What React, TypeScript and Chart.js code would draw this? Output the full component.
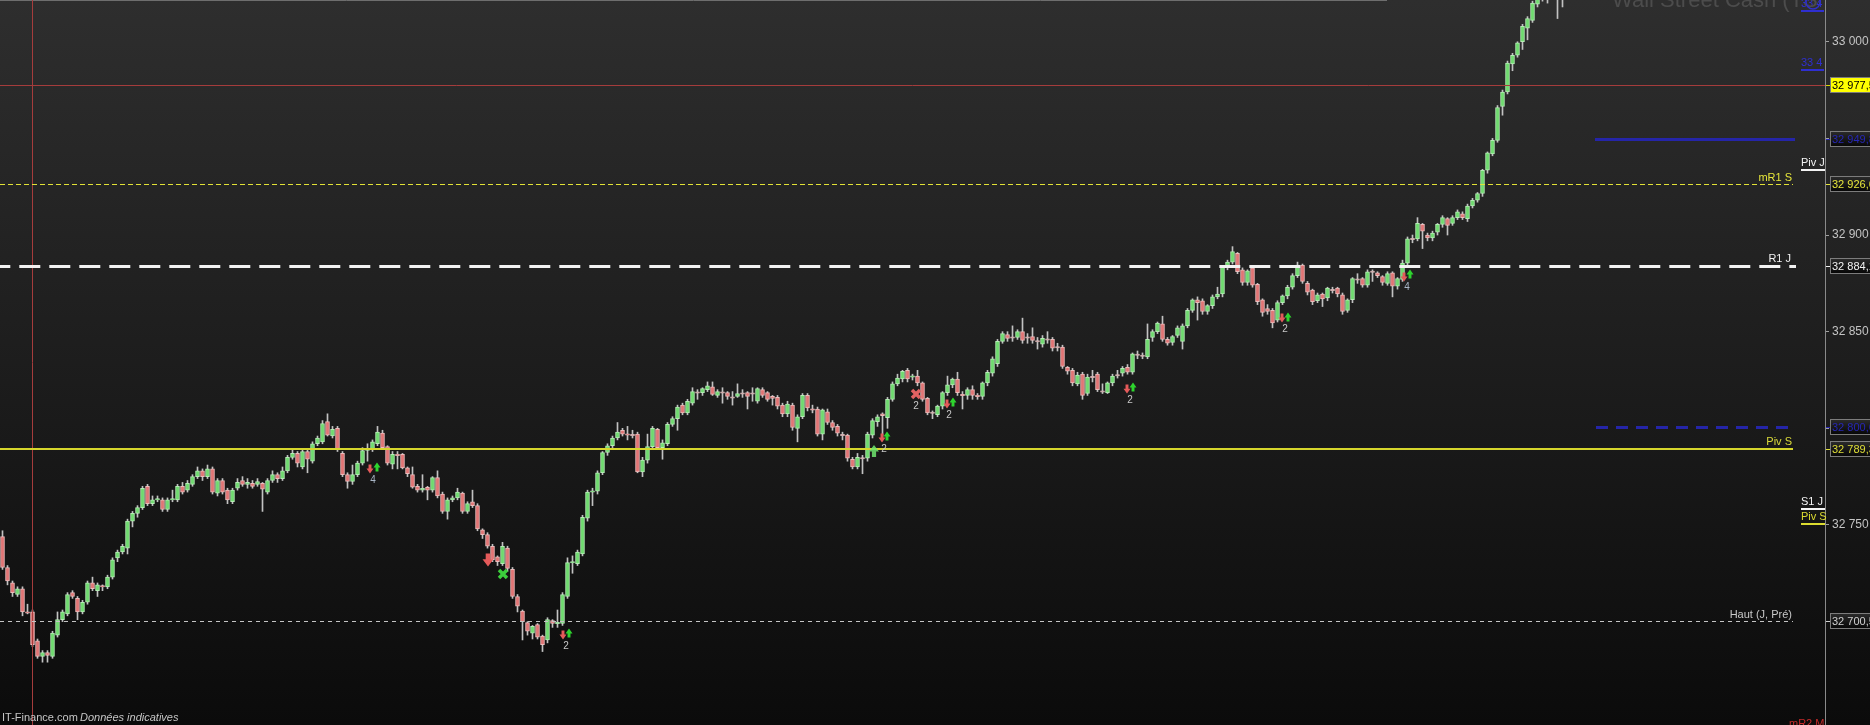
import React, { useEffect, useRef } from "react";
import { Chart, registerables } from "chart.js";

Chart.register(...registerables);

const SLOT_COUNT = 365;
const Y_MIN = 32646.5;
const Y_MAX = 33021.6;
const yTickValues = [32700, 32750, 32800, 32850, 32900, 32950, 33000];

const opens = [
  32744, 32728, 32720, 32714, 32717, 32705, 32705, 32690, 32682, 32684,
  32682, 32693, 32701, 32704, 32715, 32712, 32705, 32710, 32720, 32716,
  32718.5, 32718, 32723, 32733, 32736, 32738, 32752, 32756, 32759, 32770,
  32761, 32763, 32763, 32758, 32763, 32763, 32770, 32768, 32771, 32775,
  32778, 32775, 32779, 32766.5, 32773, 32768, 32762, 32769, 32773, 32771,
  32771.5, 32771, 32771.5, 32767, 32773, 32776, 32774, 32778, 32785, 32787,
  32780, 32788, 32783, 32792, 32793, 32803.5, 32796, 32800, 32787, 32776,
  32772.5, 32776, 32782, 32788.5, 32789, 32792, 32797.5, 32790.5, 32781.5, 32786.5,
  32786.5, 32779.5, 32776, 32770, 32768, 32769.5, 32768, 32774.5, 32766, 32757,
  32763, 32764, 32766.5, 32757, 32762, 32760, 32747.5, 32745, 32739, 32733.5,
  32730, 32738, 32727, 32713, 32705.5, 32699.5, 32694, 32698.5, 32692.5, 32690.5,
  32700.5, 32699, 32699, 32713, 32730.5, 32730, 32735, 32753.5, 32767, 32767.5,
  32777, 32787.5, 32791, 32795, 32799, 32797, 32796.5, 32797, 32777.5, 32783.5,
  32790.5, 32799.5, 32790, 32792, 32802, 32805, 32812, 32808, 32813, 32818.5,
  32818.5, 32820, 32821.5, 32817, 32818.5, 32818.5, 32816, 32816.5, 32818, 32818.5,
  32818, 32814, 32820, 32818.5, 32816.5, 32816, 32812, 32807.5, 32812, 32800,
  32806, 32817, 32810, 32810, 32797, 32808.5, 32803, 32801, 32796.5, 32796.5,
  32784, 32780, 32784.5, 32784.5, 32796.5, 32803.5, 32807.5, 32805.5, 32815, 32823,
  32825.5, 32830, 32826.5, 32827, 32823.5, 32815.5, 32808, 32807, 32811.5, 32818.5,
  32822.5, 32825.5, 32817.5, 32817, 32820, 32817, 32816.5, 32823.5, 32828.5, 32833.5,
  32845, 32848.5, 32847, 32847, 32850, 32847, 32847.5, 32845, 32843.5, 32846,
  32846, 32842, 32842, 32831.5, 32830, 32823, 32828, 32818, 32826.5, 32828,
  32819, 32818.5, 32823.5, 32827.5, 32828.5, 32831.5, 32829, 32838, 32837.5, 32837,
  32847, 32850, 32854, 32846, 32844.5, 32848, 32845, 32853, 32861, 32866.5,
  32866, 32860.5, 32863.5, 32868, 32869.5, 32883.5, 32886, 32890.5, 32882, 32875.5,
  32883, 32874.5, 32866.5, 32862, 32861, 32856, 32865, 32868.5, 32873, 32879,
  32884.5, 32875, 32871.5, 32866, 32869.5, 32867.5, 32871.5, 32872.5, 32869, 32861,
  32866.5, 32877, 32877.5, 32874, 32881, 32880.5, 32878.5, 32875, 32880.5, 32873.5,
  32877, 32885.5, 32898, 32898, 32905.5, 32900, 32898.5, 32901.5, 32905.5, 32908.5,
  32906, 32909, 32911, 32908.5, 32915, 32918, 32921.5, 32933.5, 32942, 32949,
  32966.5, 32974, 32988.5, 32993, 33000, 33007, 33011, 33019.5, 33022, 33028,
  33032, 33030, 33027,
];

const closes = [
  32728, 32721, 32715, 32717, 32705, 32704.5, 32688, 32682, 32684, 32682.5,
  32694, 32701, 32705, 32714, 32713, 32705, 32710, 32720, 32717, 32719,
  32718, 32723, 32732, 32736, 32739, 32752, 32756, 32759, 32769, 32761,
  32763, 32763.5, 32758, 32763, 32763.5, 32770, 32767, 32771.5, 32775, 32778,
  32775, 32779, 32767, 32773, 32767, 32763, 32768, 32772, 32771, 32772,
  32770, 32772.5, 32768.5, 32773, 32776, 32774, 32778, 32785, 32787, 32782,
  32788, 32784, 32792, 32795, 32802.5, 32796.5, 32799.5, 32789, 32776, 32772.5,
  32776, 32782, 32788.5, 32789.5, 32793, 32798, 32790, 32782, 32786.5, 32786,
  32779.5, 32776.5, 32769.5, 32768, 32769, 32768, 32774.5, 32765, 32757, 32763,
  32764, 32767, 32757, 32761, 32760, 32748, 32745, 32739, 32732, 32731,
  32739, 32727.5, 32713, 32708, 32700, 32695, 32697.5, 32692, 32688, 32701,
  32699, 32699.5, 32714, 32730.5, 32731, 32736, 32754, 32767, 32767.5, 32777,
  32787.5, 32791, 32795, 32798, 32797, 32796.5, 32796.5, 32777.5, 32783.5, 32790.5,
  32800, 32790, 32792.5, 32802, 32805, 32811, 32808, 32814, 32819, 32818.5,
  32820.5, 32822, 32817.5, 32819, 32818.5, 32816.5, 32816, 32818, 32818, 32816.5,
  32818, 32820.5, 32817, 32815, 32815.5, 32811.5, 32807.5, 32812.5, 32800.5, 32806,
  32817, 32810.5, 32809.5, 32797, 32809.5, 32803, 32800.5, 32797.5, 32796.5, 32784.5,
  32780, 32785, 32784.5, 32797, 32804, 32806, 32806.5, 32815, 32823, 32826,
  32829.5, 32825.5, 32827, 32823.5, 32815, 32808, 32808, 32811.5, 32818.5, 32822.5,
  32825.5, 32818.5, 32817, 32820, 32817, 32816.5, 32823.5, 32829, 32836, 32845,
  32849, 32846.5, 32847, 32850, 32845.5, 32847, 32845.5, 32845, 32846.5, 32846,
  32841.5, 32842, 32832, 32829.5, 32823.5, 32827.5, 32817, 32826.5, 32826.5, 32820,
  32819, 32823.5, 32827, 32827.5, 32831, 32829, 32838.5, 32838, 32837.5, 32846,
  32850, 32854.5, 32846, 32844, 32847.5, 32852, 32853, 32861, 32866.5, 32865,
  32860.5, 32863.5, 32868, 32869.5, 32883.5, 32886, 32891.5, 32881, 32875.5, 32881.5,
  32874, 32865.5, 32860, 32860.5, 32854.5, 32865, 32868.5, 32873, 32879, 32884.5,
  32876, 32870.5, 32865.5, 32869, 32867, 32872.5, 32871.5, 32869.5, 32860.5, 32866.5,
  32877.5, 32877, 32874, 32881, 32881, 32879, 32875.5, 32880, 32873.5, 32877.5,
  32885.5, 32898, 32898, 32906, 32902, 32898.5, 32901, 32905.5, 32909, 32905,
  32909, 32912, 32909, 32915, 32918, 32921.5, 32933.5, 32942.5, 32949, 32966,
  32974, 32989, 32993, 32999.5, 33008, 33012, 33020, 33024, 33028, 33032,
  33035, 33027, 33030,
];

const highs = [
  32747, 32729, 32721, 32718, 32718, 32709, 32706, 32691, 32685, 32685,
  32695, 32705, 32706, 32715, 32716, 32713, 32711, 32721, 32723, 32720,
  32719, 32724, 32733, 32737, 32740, 32753, 32757, 32760, 32770, 32771,
  32765, 32765, 32764, 32764, 32768, 32771, 32772, 32773, 32776, 32780,
  32779, 32781, 32780, 32774, 32774, 32769, 32769, 32774, 32775, 32774,
  32773, 32774, 32772, 32774, 32778, 32777, 32780, 32786, 32789, 32788,
  32789, 32789, 32793, 32796, 32804, 32807.5, 32801, 32801, 32788, 32777,
  32781, 32783, 32790, 32792, 32794, 32801, 32799, 32791, 32788, 32788,
  32787, 32780, 32780, 32771, 32776, 32770, 32775, 32778, 32767, 32764,
  32765, 32769, 32767, 32762, 32768, 32761, 32748, 32746, 32740, 32734,
  32741, 32739, 32728, 32714, 32706, 32700, 32698, 32699, 32693, 32702,
  32701, 32706, 32715, 32733, 32734, 32737, 32755, 32768, 32769, 32778,
  32788, 32792, 32796, 32803, 32800, 32801, 32799, 32798, 32785, 32797,
  32801, 32800, 32794, 32803, 32806, 32812, 32813, 32815, 32821, 32820,
  32821, 32824, 32824, 32820, 32821, 32819, 32819, 32823, 32820, 32819,
  32821, 32821, 32821, 32819, 32817, 32817, 32813, 32814, 32813, 32807,
  32818, 32818, 32812, 32811, 32810, 32810, 32804, 32802, 32798, 32797,
  32785, 32787, 32786, 32798, 32805, 32807, 32808, 32816, 32824, 32828,
  32830, 32831, 32828, 32830, 32824, 32816, 32809, 32812, 32819, 32827,
  32826, 32829, 32819, 32821, 32822, 32818, 32824, 32830, 32837, 32846,
  32850, 32850, 32853, 32851, 32857, 32849, 32852, 32847, 32848, 32850,
  32847, 32844, 32843, 32832, 32831, 32829, 32829, 32828, 32830, 32829,
  32823, 32824, 32828, 32830, 32832, 32833, 32839, 32840, 32839, 32854,
  32851, 32855, 32858, 32847, 32848, 32853, 32854, 32862, 32867, 32868,
  32867, 32864, 32869, 32873, 32884, 32887, 32894, 32891, 32883, 32882,
  32884, 32875, 32867, 32864, 32862, 32866, 32869, 32874, 32880, 32886,
  32885, 32876, 32872, 32870, 32870, 32873, 32873, 32873, 32870, 32867,
  32878, 32880, 32878, 32882, 32882, 32881, 32879, 32881, 32881, 32878,
  32887, 32899, 32900, 32909, 32906, 32901, 32902, 32906, 32910, 32909,
  32910, 32913, 32912, 32916, 32919, 32922, 32934, 32943, 32950, 32967,
  32975, 32990, 32994, 33000, 33009, 33013, 33021, 33025, 33030, 33034,
  33037, 33033, 33033,
];

const lows = [
  32727, 32719, 32713, 32713, 32703, 32704, 32687, 32681, 32679, 32679,
  32681, 32692, 32700, 32703, 32712, 32701, 32704, 32709, 32716, 32713,
  32716, 32717, 32722, 32731, 32735, 32735, 32749, 32754, 32758, 32760,
  32760, 32762, 32757, 32757, 32762, 32762, 32766, 32767, 32770, 32774,
  32773, 32774, 32766, 32765, 32766, 32761, 32761, 32768, 32770, 32769,
  32769, 32770, 32757, 32766, 32772, 32772, 32773, 32777, 32784, 32780,
  32779, 32777, 32782, 32791, 32792, 32796, 32795, 32788, 32775, 32769,
  32771, 32775, 32781, 32783, 32788, 32791, 32789, 32781, 32779, 32779,
  32779, 32775, 32769, 32767, 32767, 32763, 32767, 32764, 32756, 32753,
  32762, 32763, 32756, 32756, 32759, 32747, 32743, 32738, 32731, 32729,
  32729, 32726, 32712, 32705, 32690.5, 32693, 32691, 32691, 32684.5, 32689,
  32697, 32697, 32698, 32712, 32725, 32729, 32734, 32752, 32760, 32766,
  32776, 32786, 32790, 32794, 32796, 32794, 32795, 32777, 32775, 32782,
  32789, 32789, 32784, 32791, 32801, 32799, 32807, 32807, 32812, 32815,
  32817, 32819, 32817, 32816, 32813, 32815, 32812, 32816, 32816, 32810,
  32814, 32813, 32816, 32814, 32812, 32810, 32806, 32806, 32799, 32793,
  32805, 32809, 32808, 32796, 32794, 32802, 32799, 32796, 32794, 32783,
  32779, 32779, 32776.5, 32783, 32795, 32801, 32796, 32800, 32814, 32822,
  32824, 32824, 32825, 32822, 32814, 32807, 32805, 32806, 32810, 32817,
  32821, 32817, 32810, 32815, 32815, 32815, 32815, 32822, 32827, 32832,
  32844, 32845, 32845, 32846, 32844, 32844, 32844, 32841, 32842, 32844,
  32840, 32840, 32831, 32828, 32822, 32822, 32815, 32817, 32824, 32819,
  32818, 32818, 32822, 32826, 32827, 32828, 32828, 32836, 32836, 32836,
  32845, 32849, 32845, 32843, 32843, 32847, 32841, 32852, 32860, 32856,
  32859, 32859, 32862, 32867, 32868, 32882, 32885, 32880, 32874, 32874,
  32873, 32864, 32858, 32859, 32852, 32855, 32864, 32867, 32872, 32878,
  32875, 32869, 32864, 32865, 32863, 32866, 32870, 32868, 32859, 32860,
  32865, 32875, 32873, 32873, 32876, 32878, 32874, 32874, 32868, 32872,
  32876, 32884, 32896, 32897, 32893, 32897, 32897, 32900, 32904, 32900,
  32905, 32908, 32908, 32907, 32914, 32917, 32920, 32932, 32941, 32948,
  32962, 32973, 32985, 32992, 32996, 33001, 33010, 33018, 33021, 33020,
  33025, 33012, 33018,
];

// price levels
const redLevel = 32977.5;
const blueLevel = 32949.8;
const mR1SLevel = 32926.6;
const r1JLevel = 32884.1;
const blueDashLevel = 32800.6;
const pivSLevel = 32789.3;
const hautLevel = 32700.5;
const crosshairIndex = 6;

// signal markers: [candle index, price]
const downArrows: [number, number][] = [
  [73.5, 32779.0], [112.1, 32693.1], [175.9, 32795.0], [188.9, 32812.6],
  [224.9, 32820.3], [255.9, 32857.1], [280.3, 32878.3],
];
const upArrows: [number, number][] = [
  [74.9, 32780.0], [113.3, 32694.1], [176.9, 32796.0], [190.1, 32813.6],
  [226.1, 32821.4], [257.1, 32857.6], [281.5, 32879.8],
];
const bigDownArrows: [number, number][] = [[97.1, 32731.9]];
const bigUpArrows: [number, number][] = [[174.3, 32788.3]];
const countLabels: [number, number, string][] = [
  [74.1, 32773.3, "4"], [112.7, 32687.4, "2"], [176.3, 32789.3, "2"],
  [182.7, 32811.5, "2"], [189.3, 32806.9, "2"], [225.5, 32814.6, "2"],
  [256.5, 32851.4, "2"], [280.9, 32873.1, "4"],
];
const greenCrosses: [number, number][] = [[100.1, 32724.6]];
const redCrosses: [number, number][] = [[182.7, 32817.7]];

const FONT = '"Liberation Sans", Arial, sans-serif';

function fmtInt(v: number) {
  const s = String(Math.round(v));
  return s.slice(0, -3) + " " + s.slice(-3);
}
function fmtDec(v: number) {
  const s = v.toFixed(1);
  const [a, b] = s.split(".");
  return a.slice(0, -3) + " " + a.slice(-3) + "," + b;
}

function drawArrow(ctx: CanvasRenderingContext2D, cx: number, cy: number, w: number, h: number, up: boolean, color: string) {
  const hw = w / 2;
  const headH = h * 0.55;
  const sw = w * 0.42;
  const dir = up ? 1 : -1;
  const tip = cy - (dir * h) / 2;
  const base = cy + (dir * h) / 2;
  const headBase = tip + dir * headH;
  ctx.beginPath();
  ctx.moveTo(cx, tip);
  ctx.lineTo(cx + hw, headBase);
  ctx.lineTo(cx + sw / 2, headBase);
  ctx.lineTo(cx + sw / 2, base);
  ctx.lineTo(cx - sw / 2, base);
  ctx.lineTo(cx - sw / 2, headBase);
  ctx.lineTo(cx - hw, headBase);
  ctx.closePath();
  ctx.fillStyle = color;
  ctx.fill();
}

function drawCross(ctx: CanvasRenderingContext2D, cx: number, cy: number, r: number, color: string) {
  ctx.save();
  ctx.strokeStyle = color;
  ctx.lineWidth = 3.5;
  ctx.beginPath();
  ctx.moveTo(cx - r, cy - r);
  ctx.lineTo(cx + r, cy + r);
  ctx.moveTo(cx + r, cy - r);
  ctx.lineTo(cx - r, cy + r);
  ctx.stroke();
  ctx.restore();
}

const bgPlugin = {
  id: "bgGradient",
  beforeDraw(chart: any) {
    const { ctx, width, height } = chart;
    const g = ctx.createLinearGradient(0, 0, 0, height);
    g.addColorStop(0, "#2e2e2e");
    g.addColorStop(0.5, "#1d1d1d");
    g.addColorStop(1, "#0b0b0b");
    ctx.save();
    ctx.fillStyle = g;
    ctx.fillRect(0, 0, width, height);
    ctx.strokeStyle = "#6e6e6e";
    ctx.lineWidth = 1;
    ctx.beginPath();
    ctx.moveTo(0, 0.5);
    ctx.lineTo(1387, 0.5);
    ctx.stroke();
    ctx.restore();
  },
};

const levelPlugin = {
  id: "levels",
  afterDatasetsDraw(chart: any) {
    const { ctx, chartArea } = chart;
    const y = chart.scales.y;
    const x = chart.scales.x;
    const yp = (v: number) => Math.round(y.getPixelForValue(v));
    const hline = (v: number, x0: number, x1: number, color: string, w: number, dash: number[], offset = 0) => {
      const py = yp(v) + (w % 2 === 1 ? 0.5 : 0);
      ctx.save();
      ctx.strokeStyle = color;
      ctx.lineWidth = w;
      ctx.setLineDash(dash);
      ctx.lineDashOffset = offset;
      ctx.beginPath();
      ctx.moveTo(x0, py);
      ctx.lineTo(x1, py);
      ctx.stroke();
      ctx.restore();
    };
    const cx = Math.floor(x.getPixelForValue(crosshairIndex)) + 0.5;
    ctx.save();
    ctx.strokeStyle = "#a53c3c";
    ctx.lineWidth = 1;
    ctx.beginPath();
    ctx.moveTo(cx, 0);
    ctx.lineTo(cx, chart.height);
    ctx.stroke();
    ctx.restore();

    hline(redLevel, 0, chartArea.right, "#a53c3c", 1, []);
    hline(blueLevel, 1595, 1795, "#2525a8", 3, []);
    hline(mR1SLevel, 0, 1793, "#e2e236", 1, [5, 3]);
    hline(r1JLevel, 0, 1796, "#f2f2f2", 3, [21, 9], 10.7);
    hline(blueDashLevel, 1596, 1796, "#2525a8", 3, [12, 8]);
    hline(pivSLevel, 0, 1793, "#d6d62c", 2, []);
    hline(hautLevel, 0, 1793, "#c4c4c4", 1, [4, 4]);

    const px = (i: number) => x.getPixelForValue(i);
    const py = (v: number) => y.getPixelForValue(v);
    downArrows.forEach(([i, v]) => drawArrow(ctx, px(i), py(v), 7, 9, false, "#e45a5a"));
    upArrows.forEach(([i, v]) => drawArrow(ctx, px(i), py(v), 7, 9, true, "#2ed42e"));
    bigDownArrows.forEach(([i, v]) => drawArrow(ctx, px(i), py(v), 11, 13, false, "#e45a5a"));
    bigUpArrows.forEach(([i, v]) => drawArrow(ctx, px(i), py(v), 10, 12, true, "rgba(110,230,110,0.85)"));
    greenCrosses.forEach(([i, v]) => drawCross(ctx, px(i), py(v), 4, "#3ccf3c"));
    redCrosses.forEach(([i, v]) => drawCross(ctx, px(i), py(v), 4, "#e26262"));
    ctx.save();
    ctx.font = "10px " + FONT;
    ctx.textAlign = "center";
    ctx.textBaseline = "middle";
    countLabels.forEach(([i, v, t]) => {
      ctx.fillStyle = t === "4" ? "#a9b6c6" : "#c8c8c8";
      ctx.fillText(t, px(i), py(v));
    });
    ctx.restore();
  },
  afterDraw(chart: any) {
    const { ctx, chartArea } = chart;
    const y = chart.scales.y;
    const yp = (v: number) => Math.round(y.getPixelForValue(v));
    ctx.save();
    ctx.font = "11px " + FONT;
    ctx.textBaseline = "alphabetic";
    ctx.textAlign = "right";
    ctx.fillStyle = "#e6e63a";
    ctx.fillText("mR1 S", 1792, yp(mR1SLevel) - 3);
    ctx.fillStyle = "#f0f0f0";
    ctx.fillText("R1 J", 1791, yp(r1JLevel) - 4);
    ctx.fillStyle = "#dada3a";
    ctx.fillText("Piv S", 1792, yp(pivSLevel) - 4);
    ctx.fillStyle = "#c8c8c8";
    ctx.fillText("Haut (J, Pré)", 1792, yp(hautLevel) - 3);

    ctx.textAlign = "left";
    const tag = (text: string, tx: number, ty: number, color: string, ul: number) => {
      ctx.fillStyle = color;
      ctx.fillText(text, tx, ty);
      ctx.fillRect(tx, ty + 3, ul, 2);
    };
    tag("33 4", 1801, 7, "#2f2fd0", 23);
    tag("33 4", 1801, 66, "#2f2fd0", 23);
    tag("Piv J", 1801, 166, "#f4f4f4", 24);
    tag("S1 J", 1801, 505, "#f4f4f4", 24);
    tag("Piv S", 1801, 520, "#dcdc30", 24);
    ctx.fillStyle = "#c42a2a";
    ctx.fillText("mR2 M", 1789, 727);

    ctx.font = "22px " + FONT;
    ctx.fillStyle = "#4c4c4c";
    ctx.fillText("Wall Street Cash (TS", 1612, 7);
    ctx.strokeStyle = "#3030c8";
    ctx.lineWidth = 1.5;
    ctx.beginPath();
    ctx.arc(1813, 2, 7, 0, Math.PI * 2);
    ctx.stroke();

    ctx.font = "11px " + FONT;
    ctx.fillStyle = "#c6c6c6";
    ctx.fillText("IT-Finance.com", 2, 721);
    ctx.font = "italic 11px " + FONT;
    ctx.fillText("Données indicatives", 80, 721);

    const boxes: { v: number; fg: string; bg?: string }[] = [
      { v: redLevel, fg: "#000000", bg: "#ffff00" },
      { v: blueLevel, fg: "#2626b4" },
      { v: mR1SLevel, fg: "#e6e63a" },
      { v: r1JLevel, fg: "#f2f2f2" },
      { v: blueDashLevel, fg: "#2626b4" },
      { v: pivSLevel, fg: "#dede36" },
      { v: hautLevel, fg: "#d0d0d0" },
    ];
    ctx.font = "11px " + FONT;
    ctx.textBaseline = "middle";
    boxes.forEach((b) => {
      const cy = yp(b.v);
      const top = cy - 8;
      if (b.bg) {
        ctx.fillStyle = b.bg;
      } else {
        const g = ctx.createLinearGradient(0, top, 0, top + 16);
        g.addColorStop(0, "#2c2c2c");
        g.addColorStop(1, "#050505");
        ctx.fillStyle = g;
      }
      ctx.fillRect(1830, top, 45, 16);
      ctx.strokeStyle = "#7c7c7c";
      ctx.lineWidth = 1;
      ctx.strokeRect(1830.5, top + 0.5, 45, 15);
      ctx.fillStyle = b.fg;
      ctx.fillText(fmtDec(b.v), 1832, cy + 1);
      ctx.fillStyle = b.fg === "#000000" ? "#d8d800" : b.fg;
      ctx.fillRect(chartArea.right + 1, cy, 4, 1);
    });
    ctx.restore();
  },
};

export default function App() {
  const canvasRef = useRef<HTMLCanvasElement | null>(null);

  useEffect(() => {
    if (!canvasRef.current) return;
    const labels = Array.from({ length: SLOT_COUNT }, (_, i) => String(i));
    const wickData = lows.map((l, i) => [l, highs[i]]);
    const bodyData = opens.map((o, i) => {
      const c = closes[i];
      const lo = Math.min(o, c);
      const hi = Math.max(o, c);
      if (hi - lo < 0.6) {
        const m = (hi + lo) / 2;
        return [m - 0.35, m + 0.35];
      }
      return [lo, hi];
    });
    const bodyFill = opens.map((o, i) =>
      closes[i] > o ? "#6edb6e" : closes[i] < o ? "#e27474" : "#cfa6a6"
    );
    const bodyBorder = opens.map((o, i) =>
      closes[i] > o ? "#b4ecb4" : closes[i] < o ? "#ecbcbc" : "#d8b8b8"
    );

    const chart = new Chart(canvasRef.current, {
      type: "bar",
      data: {
        labels,
        datasets: [
          {
            label: "wicks",
            data: wickData as any,
            backgroundColor: "#c2c2c2",
            barThickness: 1,
            grouped: false,
            order: 2,
          } as any,
          {
            label: "bodies",
            data: bodyData as any,
            backgroundColor: bodyFill,
            borderColor: bodyBorder,
            borderWidth: 1,
            borderSkipped: false,
            barThickness: 4,
            grouped: false,
            order: 1,
          } as any,
        ],
      },
      options: {
        animation: false,
        responsive: false,
        maintainAspectRatio: false,
        layout: { padding: 0 },
        plugins: {
          legend: { display: false },
          tooltip: { enabled: false },
          title: { display: false },
        },
        scales: {
          x: {
            type: "category",
            display: false,
            offset: true,
            grid: { display: false },
          },
          y: {
            type: "linear",
            position: "right",
            min: Y_MIN,
            max: Y_MAX,
            afterFit: (s: any) => {
              s.width = 45;
              s.paddingTop = 0;
              s.paddingBottom = 0;
            },
            afterBuildTicks: (s: any) => {
              s.ticks = yTickValues.map((v) => ({ value: v }));
            },
            ticks: {
              color: "#c4c4c4",
              font: { family: FONT, size: 12 },
              padding: 3,
              callback: (v: any) => fmtInt(Number(v)),
            },
            grid: {
              drawOnChartArea: false,
              drawTicks: true,
              tickLength: 4,
              color: "#a0a0a0",
            },
            border: { color: "#8a8a8a", width: 1 },
          } as any,
        },
      },
      plugins: [bgPlugin, levelPlugin],
    });
    return () => chart.destroy();
  }, []);

  return (
    <div style={{ position: "fixed", left: 0, top: 0, width: 1870, height: 725, background: "#111" }}>
      <canvas ref={canvasRef} width={1870} height={725} style={{ display: "block" }} />
    </div>
  );
}
